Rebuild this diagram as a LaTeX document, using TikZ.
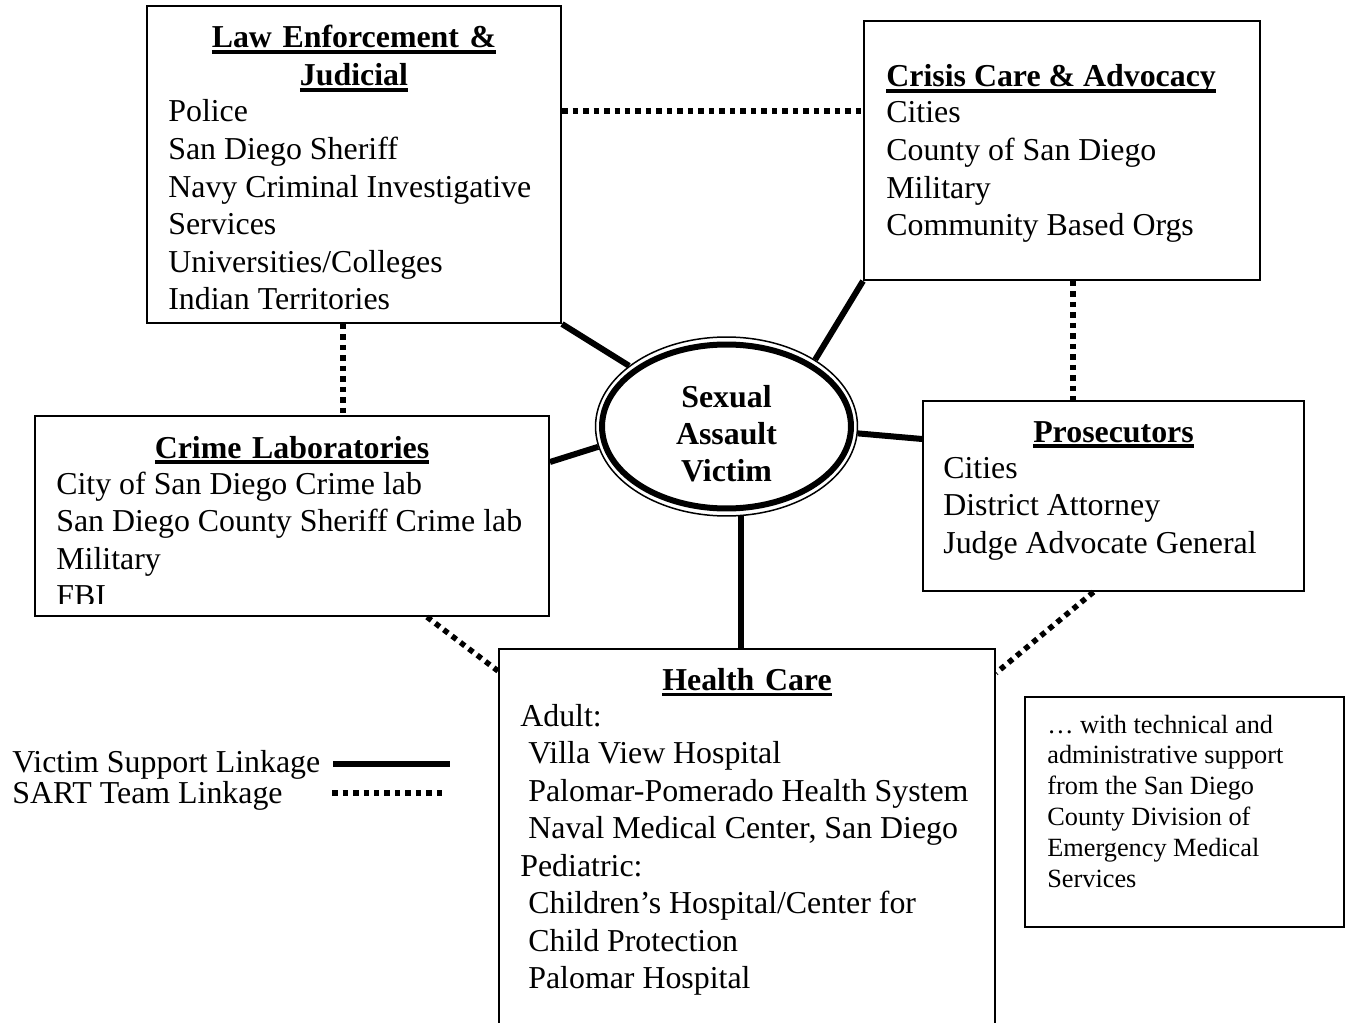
\documentclass[tikz,border=0pt]{standalone}
\usepackage{fontspec}
\setmainfont{Liberation Serif}
\usetikzlibrary{shapes.geometric}
\usetikzlibrary{fit}
\tikzset{box/.style = {draw, line width=0.04cm, inner sep=0}}
\tikzset{support/.style = {line width=0.12cm}}
\tikzset{sart/.style = {line width=0.11cm, dash pattern=on 0.11cm off 0.1cm}}
\tikzset{head/.style = {inner sep=0, text width=9cm, align=center,
                        font=\bfseries\fontsize{18.14}{21.37}\selectfont}}
\tikzset{entry/.style = {inner sep=0, text width=16cm, align=flush left,
                         font=\fontsize{18.14}{21.37}\selectfont}}
\tikzset{victimnode/.style = {draw, ellipse, line width=0.03cm, inner sep=0,
                              minimum width=5.24cm, minimum height=3.58cm}}
\tikzset{victimtext/.style = {inner sep=0, align=center,
                              font=\bfseries\fontsize{18.14}{21.2}\selectfont}}
\newcommand{\boxhead}[1]{\leavevmode\setbox0=\hbox{#1}\rlap{\rule[-0.12cm]{\wd0}{0.07cm}}\box0}

\begin{document}
\begin{tikzpicture}[x=0.02cm, y=-0.02cm]
    \useasboundingbox (0,0) rectangle (1351,1023);

    \node [box, fit={(147,6) (561,323)}] (law) {};
    \node [box, fit={(864,21) (1260,280)}] (crisis) {};
    \node [box, fit={(35,416) (549,616)}] (crime) {};
    \node [box, fit={(923,401) (1304,591)}] (pros) {};
    \node [box, fit={(499,649) (995,1040)}] (health) {};
    \node [box, fit={(1025,697) (1344,927)}] (note) {};

    \node [victimnode] (victim) at (726.5,426.5) {};
    \draw [line width=0.12cm] (victim.center) ellipse [x radius=2.49cm, y radius=1.64cm];
    \node [victimtext] (victimlabel) at ([yshift=-0.14cm]victim.center) {Sexual\\Assault\\Victim};

    \node [head, anchor=base] (lawhead) at (354,48) {\boxhead{Law Enforcement \&}\\\boxhead{Judicial}};
    \node [entry, anchor=base west] (lawlist) at (168,122)
      {Police\\San Diego Sheriff\\Navy Criminal Investigative\\Services\\Universities/Colleges\\Indian Territories};

    \node [head, align=flush left, anchor=base west] (crisishead) at (886,87) {\boxhead{Crisis Care \& Advocacy}};
    \node [entry, anchor=base west] (crisislist) at (886,123)
      {Cities\\County of San Diego\\Military\\Community Based Orgs};

    \node [head, anchor=base] (proshead) at (1113.5,442) {\boxhead{Prosecutors}};
    \node [entry, anchor=base west] (proslist) at (943,478)
      {Cities\\District Attorney\\Judge Advocate General};

    \node [head, anchor=base] (crimehead) at (292,458) {\boxhead{Crime Laboratories}};
    \begin{scope}
      \clip (35,416) rectangle (549,603);
      \node [entry, anchor=base west] (crimelist) at (56,494)
        {City of San Diego Crime lab\\San Diego County Sheriff Crime lab\\Military\\FBI};
    \end{scope}

    \node [head, anchor=base] (healthhead) at (747,690) {\boxhead{Health Care}};
    \node [entry, anchor=base west] (healthlist) at (520,726)
      {Adult:\\\hspace*{0.16cm}Villa View Hospital\\\hspace*{0.16cm}Palomar-Pomerado Health System\\
       \hspace*{0.16cm}Naval Medical Center, San Diego\\Pediatric:\\
       \hspace*{0.16cm}Children’s Hospital/Center for\\\hspace*{0.16cm}Child Protection\\
       \hspace*{0.16cm}Palomar Hospital};

    \node [entry, anchor=base west, font=\fontsize{14.97}{17.55}\selectfont] (notetext) at (1047,733)
      {… with technical and\\administrative support\\from the San Diego\\County Division of\\Emergency Medical\\Services};

    % victim support links
    \draw [support] (law.south east) -- (victim);
    \draw [support] (crisis.south west) -- (victim.37);
    \draw [support] ([yshift=-0.94cm]crime.north east) -- (victim.189);
    \draw [support] ([yshift=-0.78cm]pros.north west) -- (victim.-3);
    \draw [support] (victim.-81) -- (victim.-81 |- health.north);

    % SART team links
    \coordinate (lawA) at ([yshift=-2.12cm]law.north east);
    \draw [sart] (lawA) -- (lawA -| crisis.west);
    \coordinate (lawB) at ([xshift=-0.22cm]law.south);
    \draw [sart] (lawB) -- (lawB |- crime.north);
    \coordinate (crisisA) at ([xshift=0.22cm]crisis.south);
    \draw [sart] (crisisA) -- (crisisA |- pros.north);
    \draw [sart] ([xshift=2.7cm]crime.south) -- ([yshift=-0.46cm]health.north west);
    \draw [sart] ([xshift=-0.4cm]pros.south) -- ([yshift=-0.5cm]health.north east);

    % legend
    \node [entry, anchor=base west] (legsupport) at (12,772) {Victim Support Linkage};
    \node [entry, anchor=base west] (legsart) at (12,803) {SART Team Linkage};
    \coordinate (sup1) at (333,764);
    \coordinate (sup2) at (450,764);
    \draw [support] (sup1) -- (sup2);
    \coordinate (sart1) at (332,793);
    \coordinate (sart2) at (447,793);
    \draw [sart] (sart1) -- (sart2);
\end{tikzpicture}
\end{document}
